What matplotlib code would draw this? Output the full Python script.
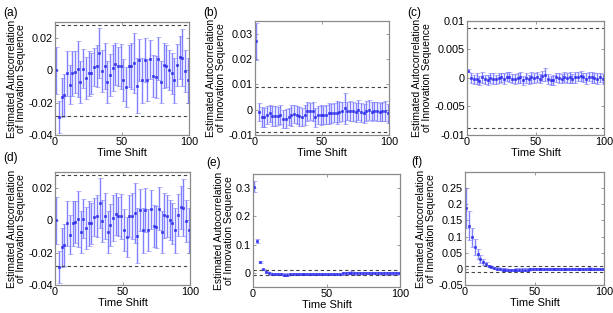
import matplotlib
matplotlib.use("Agg")
import matplotlib.pyplot as plt

plt.rcParams['font.family'] = ['Liberation Sans', 'DejaVu Sans']
plt.rcParams['axes.unicode_minus'] = False

lags = list(range(1, 100, 2))

a_vals = [0, -0.029, -0.0167, -0.0154, -0.0017, -0.0088, -0.0019, -0.001, 0.001, -0.0071,
          0.001, -0.0044, -0.0017, -0.0019, 0.0021, 0.0027, 0.011, -0.0002, 0.0027, -0.0071,
          -0.0027, 0.0015, 0.0042, 0.0025, 0.0025, -0.006, -0.0104, 0.0025, 0.0027, 0.0048,
          -0.0094, 0.0067, -0.006, 0.0063, -0.006, 0.0069, -0.0035, -0.0042, 0.0073, -0.0069,
          0.0033, 0.0027, 0.0002, -0.0019, -0.006, 0.0031, 0.0081, 0.0079, -0.0002, -0.006]
a_err = [0.0145, 0.010, 0.012, 0.013, 0.014, 0.012, 0.014, 0.013, 0.0175, 0.013,
         0.012, 0.013, 0.014, 0.013, 0.012, 0.013, 0.0155, 0.013, 0.014, 0.013,
         0.013, 0.014, 0.013, 0.012, 0.014, 0.013, 0.0125, 0.013, 0.014, 0.0185,
         0.017, 0.013, 0.014, 0.0135, 0.013, 0.012, 0.013, 0.013, 0.0135, 0.013,
         0.014, 0.013, 0.0125, 0.013, 0.014, 0.013, 0.0135, 0.0177, 0.013, 0.014]

d_vals = a_vals
d_err = a_err

b_vals = [0.027, -0.001, -0.003, -0.003, -0.002, -0.0015, -0.0025, -0.0025, -0.0025, -0.002,
          -0.0038, -0.0035, -0.0027, -0.0023, -0.0017, -0.0021, -0.0026, -0.0028, -0.0022, -0.0007,
          -0.0007, -0.0007, -0.003, -0.0022, -0.0021, -0.002, -0.002, -0.0015, -0.0015, -0.0012,
          -0.0012, -0.001, -0.0006, 0.0005, -0.0005, -0.0005, -0.0007, -0.001, -0.0002, -0.001,
          -0.0015, -0.0005, -0.0002, -0.0008, -0.0006, -0.0007, -0.0009, -0.0006, -0.0004, -0.0015]
b_err = [0.0072, 0.0035, 0.004, 0.0038, 0.0036, 0.0034, 0.0038, 0.004, 0.0035, 0.0037,
         0.0036, 0.0038, 0.0035, 0.004, 0.0037, 0.0035, 0.0038, 0.0036, 0.004, 0.0036,
         0.0035, 0.0038, 0.0037, 0.0036, 0.0038, 0.0035, 0.0037, 0.004, 0.0036, 0.0038,
         0.0045, 0.004, 0.0038, 0.006, 0.0037, 0.0039, 0.0036, 0.0038, 0.004, 0.0037,
         0.0036, 0.0039, 0.004, 0.0037, 0.0036, 0.0038, 0.0035, 0.0037, 0.0039, 0.0036]

c_vals = [0.0013, 0.0, -0.0002, -0.0001, -0.0005, 0.0001, -0.0002, -0.0003, 0.0, -0.0001,
          -0.0002, 0.0, 0.0001, -0.0001, 0.0002, 0.0002, -0.0001, -0.0002, 0.0, 0.0001,
          -0.0004, 0.0, -0.0002, 0.0001, 0.0, 0.0002, -0.0001, 0.0003, 0.0006, -0.0002,
          -0.0004, -0.0003, 0.0001, 0.0, -0.0001, 0.0002, 0.0, 0.0001, -0.0001, 0.0001,
          0.0002, 0.0003, 0.0001, -0.0001, 0.0002, 0.0001, 0.0, -0.0001, 0.0001, -0.0002]
c_err = [0.0003, 0.0009, 0.0008, 0.0009, 0.0008, 0.0009, 0.0008, 0.0009, 0.0008, 0.0009,
         0.0008, 0.0009, 0.0008, 0.0009, 0.0008, 0.0009, 0.0008, 0.0009, 0.0008, 0.0009,
         0.0008, 0.0009, 0.0008, 0.0009, 0.0008, 0.0009, 0.0008, 0.0009, 0.0011, 0.0009,
         0.0008, 0.0009, 0.0008, 0.0009, 0.0008, 0.0009, 0.0008, 0.0009, 0.0008, 0.0009,
         0.0008, 0.0009, 0.0008, 0.0009, 0.0008, 0.0009, 0.0008, 0.0009, 0.0008, 0.0009]

e_vals = [0.305, 0.112, 0.038, 0.012, 0.003, -0.002, -0.003, -0.004, -0.004, -0.005,
          -0.006, -0.006, -0.005, -0.005, -0.004, -0.004, -0.004, -0.004, -0.004, -0.003,
          -0.003, -0.003, -0.004, -0.004, -0.003, -0.004, -0.004, -0.003, -0.003, -0.003,
          -0.002, -0.002, -0.001, 0.001, -0.002, -0.002, -0.001, -0.002, -0.001, -0.001,
          -0.001, 0.0, -0.002, -0.001, -0.002, -0.002, -0.001, -0.002, -0.002, -0.001]
e_err = [0.019, 0.007, 0.004, 0.003] + [0.004] * 46

f_vals = [0.189, 0.134, 0.098, 0.067, 0.046, 0.031, 0.021, 0.014, 0.009, 0.006,
          0.003, 0.001, 0.0, -0.002, -0.002, -0.003, -0.003, -0.003, -0.002, -0.002,
          -0.002, -0.002, -0.002, -0.001, -0.001, -0.001, -0.001, -0.001, -0.001, -0.001,
          -0.001, 0.0, 0.0, 0.0, 0.0, 0.0, 0.0, 0.0, 0.0, 0.0,
          0.0, 0.0, 0.0, 0.0, 0.001, 0.0, 0.0, 0.0, 0.0, 0.0]
f_err = [0.061, 0.044, 0.029, 0.025, 0.017, 0.012, 0.008, 0.006] + [0.004] * 42

panels = [
    dict(label='(a)', vals=a_vals, err=a_err, bound=0.028, ylim=(-0.04, 0.03),
         yticks=[-0.04, -0.02, 0, 0.02], ytl=['-0.04', '-0.02', '0', '0.02'],
         rect=[55, 22, 189, 135], lab=(3, 13)),
    dict(label='(b)', vals=b_vals, err=b_err, bound=0.009, ylim=(-0.01, 0.035),
         yticks=[-0.01, 0, 0.01, 0.02, 0.03], ytl=['-0.01', '0', '0.01', '0.02', '0.03'],
         rect=[255, 21, 389, 135], lab=(203, 13)),
    dict(label='(c)', vals=c_vals, err=c_err, bound=0.0088, ylim=(-0.01, 0.01),
         yticks=[-0.01, -0.005, 0, 0.005, 0.01], ytl=['-0.01', '-0.005', '0', '0.005', '0.01'],
         rect=[467, 21, 604, 135], lab=(407, 13)),
    dict(label='(d)', vals=d_vals, err=d_err, bound=0.028, ylim=(-0.04, 0.03),
         yticks=[-0.04, -0.02, 0, 0.02], ytl=['-0.04', '-0.02', '0', '0.02'],
         rect=[55, 172, 190, 285], lab=(3, 158)),
    dict(label='(e)', vals=e_vals, err=e_err, bound=0.009, ylim=(-0.05, 0.35),
         yticks=[0, 0.1, 0.2, 0.3], ytl=['0', '0.1', '0.2', '0.3'],
         rect=[253, 174, 400, 287], lab=(206, 163)),
    dict(label='(f)', vals=f_vals, err=f_err, bound=0.009, ylim=(-0.05, 0.3),
         yticks=[-0.05, 0, 0.05, 0.1, 0.15, 0.2, 0.25],
         ytl=['-0.05', '0', '0.05', '0.1', '0.15', '0.2', '0.25'],
         rect=[465, 172, 604, 285], lab=(411, 162)),
]

W, H = 613, 313
fig = plt.figure(figsize=(W / 100, H / 100), dpi=100)

bar_col = (0.42, 0.42, 1.0, 0.85)
mk_col = (0.18, 0.18, 0.92)
frame_col = '#8a8a8a'

for p in panels:
    x0, y0, x1, y1 = p['rect']
    ax = fig.add_axes([x0 / W, 1 - y1 / H, (x1 - x0) / W, (y1 - y0) / H])
    ax.errorbar(lags, p['vals'], yerr=p['err'], fmt='s', color=mk_col, ms=1.7,
                mec=mk_col, mew=0.4, ecolor=bar_col, elinewidth=1.0, capsize=1.8,
                capthick=0.8)
    ax.axhline(p['bound'], color='#444444', ls=(0, (3, 2.5)), lw=0.8)
    ax.axhline(-p['bound'], color='#444444', ls=(0, (3, 2.5)), lw=0.8)
    ax.set_xlim(0, 100)
    ax.set_ylim(*p['ylim'])
    ax.set_xticks([0, 50, 100])
    ax.set_yticks(p['yticks'])
    ax.set_yticklabels(p['ytl'])
    ax.tick_params(direction='in', length=2, width=0.6, color=frame_col,
                   top=True, right=True, labelsize=7.8, pad=1.5)
    for s in ax.spines.values():
        s.set_color(frame_col)
        s.set_linewidth(0.9)
    ax.set_xlabel('Time Shift', fontsize=8, labelpad=0.5)
    ax.set_ylabel('Estimated Autocorrelation\nof Innovation Sequence', fontsize=7.5,
                  labelpad=1.5, linespacing=0.95)
    fig.text(p['lab'][0] / W, 1 - p['lab'][1] / H, p['label'], fontsize=8.6,
             ha='left', va='center')

fig.savefig('out.png', dpi=100)
